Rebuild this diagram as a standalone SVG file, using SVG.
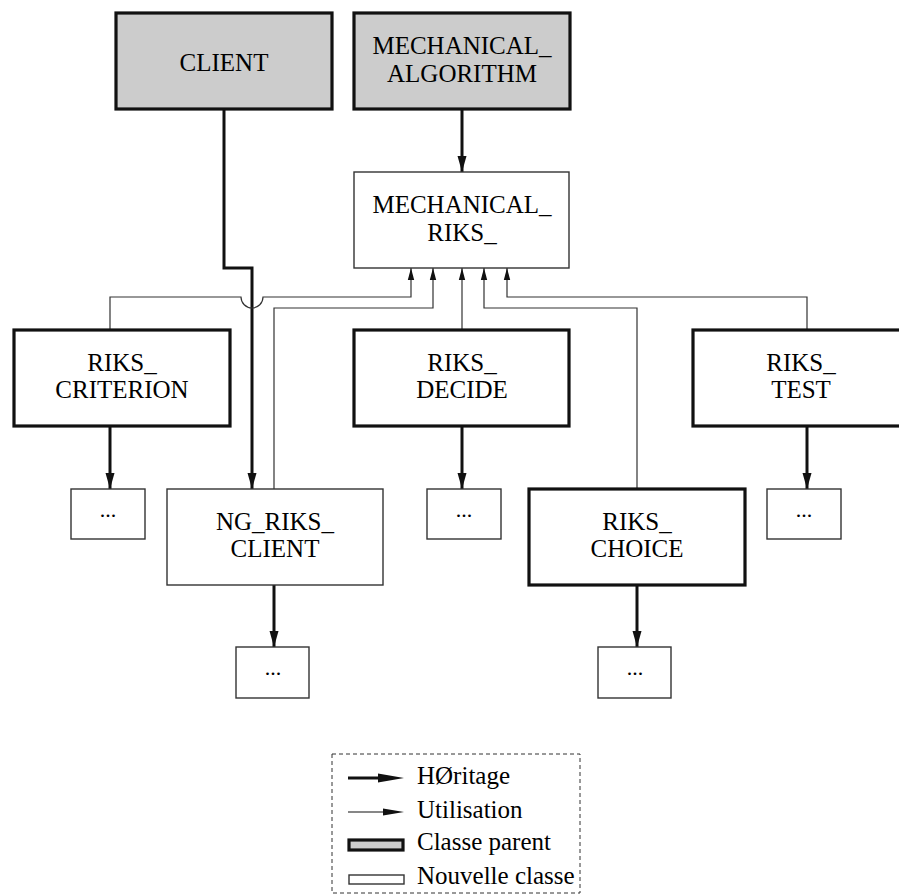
<svg xmlns="http://www.w3.org/2000/svg" width="899" height="896" viewBox="0 0 899 896">
<defs>
<style>
.lbl{font-family:"Liberation Serif","Times New Roman",serif;font-size:25px;fill:#000;text-anchor:middle}
.leg{font-family:"Liberation Serif","Times New Roman",serif;font-size:25px;fill:#000}
.dots{font-family:"Liberation Serif","Times New Roman",serif;font-size:22px;fill:#000;text-anchor:middle}
.parent{fill:#cccccc;stroke:#111;stroke-width:3.2}
.old{fill:#fff;stroke:#111;stroke-width:3.2}
.new{fill:#fff;stroke:#333;stroke-width:1.4}
.inh{fill:none;stroke:#111;stroke-width:3;marker-end:url(#mThick)}
.use{fill:none;stroke:#333;stroke-width:1.2;marker-end:url(#mThin)}
</style>
<marker id="mThick" markerUnits="userSpaceOnUse" viewBox="0 0 16 10" markerWidth="16" markerHeight="10" refX="16" refY="5" orient="auto">
<path d="M0,0.5 L16,5 L0,9.5 z" fill="#111"/>
</marker>
<marker id="mThin" markerUnits="userSpaceOnUse" viewBox="0 0 12 8" markerWidth="12" markerHeight="8" refX="12" refY="4" orient="auto">
<path d="M0,0.8 L12,4 L0,7.2 z" fill="#111"/>
</marker>
</defs>
<rect width="899" height="896" fill="#fff"/>

<g id="connectors">
<path class="inh" d="M224,109 V268 H252 V489"/>
<path class="inh" d="M462,109 V172"/>
<path class="inh" d="M110,426 V489"/>
<path class="inh" d="M462,426 V489"/>
<path class="inh" d="M807,426 V489"/>
<path class="inh" d="M274,585 V647"/>
<path class="inh" d="M637,585 V647"/>
<path class="use" d="M110,330 V297 H241 A11,11 0 0 0 263,297 H411 V268"/>
<path class="use" d="M274,489 V308 H433 V268"/>
<path class="use" d="M462,330 V268"/>
<path class="use" d="M637,489 V308 H484 V268"/>
<path class="use" d="M807,330 V297 H507 V268"/>
</g>

<g id="client">
<rect class="parent" x="116" y="13" width="216" height="96"/>
<text class="lbl" x="224" y="71">CLIENT</text>
</g>
<g id="mechanical_algorithm">
<rect class="parent" x="354" y="13" width="216" height="96"/>
<text class="lbl" x="462" y="54">MECHANICAL_</text>
<text class="lbl" x="462" y="82">ALGORITHM</text>
</g>
<g id="mechanical_riks">
<rect class="new" x="354" y="172" width="215" height="96"/>
<text class="lbl" x="462" y="213">MECHANICAL_</text>
<text class="lbl" x="462" y="241">RIKS_</text>
</g>
<g id="riks_criterion">
<rect class="old" x="14" y="330" width="216" height="96"/>
<text class="lbl" x="122" y="371">RIKS_</text>
<text class="lbl" x="122" y="398">CRITERION</text>
</g>
<g id="riks_decide">
<rect class="old" x="354" y="330" width="215" height="96"/>
<text class="lbl" x="462" y="371">RIKS_</text>
<text class="lbl" x="462" y="398">DECIDE</text>
</g>
<g id="riks_test">
<rect class="old" x="693" y="330" width="216" height="96"/>
<text class="lbl" x="801" y="371">RIKS_</text>
<text class="lbl" x="801" y="398">TEST</text>
</g>
<g id="ng_riks_client">
<rect class="new" x="167" y="489" width="216" height="96"/>
<text class="lbl" x="275" y="530">NG_RIKS_</text>
<text class="lbl" x="275" y="557">CLIENT</text>
</g>
<g id="riks_choice">
<rect class="old" x="529" y="489" width="216" height="96"/>
<text class="lbl" x="637" y="530">RIKS_</text>
<text class="lbl" x="637" y="557">CHOICE</text>
</g>
<g id="sub_criterion">
<rect class="new" x="71" y="489" width="74" height="50"/>
<text class="dots" x="108" y="517">...</text>
</g>
<g id="sub_decide">
<rect class="new" x="427" y="489" width="74" height="50"/>
<text class="dots" x="464" y="517">...</text>
</g>
<g id="sub_test">
<rect class="new" x="767" y="489" width="74" height="50"/>
<text class="dots" x="804" y="517">...</text>
</g>
<g id="sub_ng">
<rect class="new" x="236" y="647" width="73" height="51"/>
<text class="dots" x="273" y="675">...</text>
</g>
<g id="sub_choice">
<rect class="new" x="598" y="647" width="73" height="51"/>
<text class="dots" x="635" y="675">...</text>
</g>

<g id="legend">
<rect x="332" y="754" width="248" height="139" fill="none" stroke="#333" stroke-width="1" stroke-dasharray="4,3"/>
<line x1="348" y1="778" x2="382" y2="778" stroke="#111" stroke-width="3"/>
<polygon points="378,773.5 404,778 378,782.5" fill="#111"/>
<text class="leg" x="417" y="784">HØritage</text>
<line x1="348" y1="812" x2="386" y2="812" stroke="#111" stroke-width="1.2"/>
<polygon points="383,808.5 404,812 383,815.5" fill="#111"/>
<text class="leg" x="417" y="818">Utilisation</text>
<rect class="parent" x="349" y="840" width="54" height="10"/>
<text class="leg" x="417" y="850">Classe parent</text>
<rect class="new" x="349" y="875" width="55" height="9"/>
<text class="leg" x="417" y="884">Nouvelle classe</text>
</g>
</svg>
